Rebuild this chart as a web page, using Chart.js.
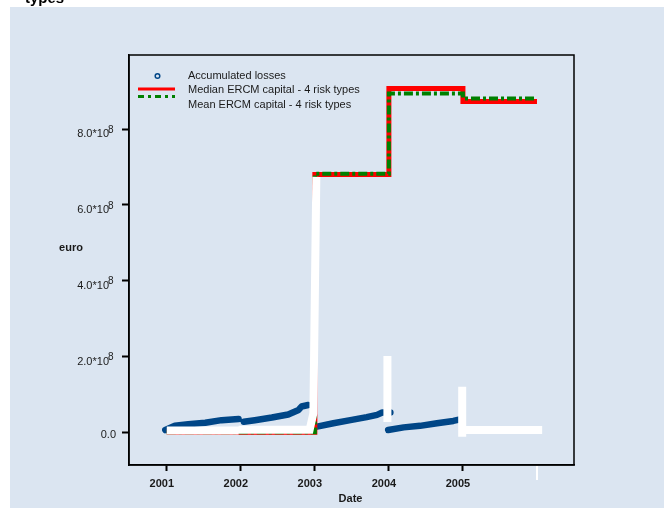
<!DOCTYPE html>
<html>
<head>
<meta charset="utf-8">
<script src="https://cdn.jsdelivr.net/npm/chart.js@4.4.1/dist/chart.umd.min.js"></script>
<style>
    html, body { margin: 0; padding: 0; background: #ffffff; }
    #wrap { position: relative; width: 664px; height: 508px; overflow: hidden; }
    #capitalChart { position: absolute; left: 0; top: 0; }
    #title { position: absolute; left: 25px; top: -10px; font: bold 15px/15px "Liberation Sans", Arial, sans-serif; color: #000; }
</style>
</head>
<body>
<div id="wrap">
    <canvas id="capitalChart" width="664" height="508"></canvas>
    <div id="title">types</div>
</div>
<script>
// years on the x axis (last one only gets a tick)
const years = [2001, 2002, 2003, 2004, 2005, 2006];
const yTicks = [0, 2e8, 4e8, 6e8, 8e8];

// ERCM capital per year, held until the next year
const medianCapital = [0, 0, 6.80e8, 9.07e8, 8.73e8, 8.73e8];
const meanCapital = [0, 0, 6.82e8, 8.94e8, 8.81e8, 8.81e8];

// accumulated losses, reset every year (null = break)
const lossDates = [2000.98, 2001.11, 2001.29, 2001.52, 2001.74, 2001.97, 2002.0,
    2002.04, 2002.19, 2002.42, 2002.64, 2002.78, 2002.82, 2002.91, 2003.0,
    2003.03, 2003.25, 2003.48, 2003.70, 2003.84, 2003.91, 2004.02, 2004.0,
    2003.99, 2004.20, 2004.42, 2004.65, 2004.87, 2004.96];
const lossValues = [0.06e8, 0.17e8, 0.21e8, 0.25e8, 0.32e8, 0.35e8, null,
    0.28e8, 0.32e8, 0.39e8, 0.47e8, 0.59e8, 0.68e8, 0.72e8, null,
    0.15e8, 0.24e8, 0.32e8, 0.40e8, 0.46e8, 0.52e8, 0.52e8, null,
    0.06e8, 0.13e8, 0.17e8, 0.24e8, 0.30e8, 0.34e8];

// white overplot series
const whiteDates = [2001.0, 2001.97, 2001.97, 2001.97, 2002.93, 2002.98, 2003.02, 2003.5,
    2003.98, 2003.98, 2004.5, 2004.99, 2004.99, 2005.0, 2004.99, 2006.07];
const whiteValues = [0.05e8, 0.05e8, null, 0.07e8, 0.07e8, 0.5e8, 6.74e8, null,
    2.01e8, 0.27e8, null, 1.20e8, -0.12e8, null, 0.06e8, 0.06e8];

const fontFamily = '"Liberation Sans", Arial, sans-serif';
const panelColor = '#dbe5f1';
const lossBlue = '#004687';
const textColor = '#1a1a1a';

function toPoints(xs, ys) {
    return xs.map((x, i) => ({x: x, y: ys[i]}));
}

// background panel, frame, y labels with exponent, axis titles and legend
const frameAndLabels = {
    id: 'frameAndLabels',
    beforeDraw(chart) {
        const ctx = chart.ctx;
        ctx.save();
        ctx.fillStyle = panelColor;
        ctx.fillRect(10, 7, chart.width - 10, chart.height - 7);
        ctx.restore();
    },
    afterDraw(chart) {
        const {ctx, chartArea, scales} = chart;
        const left = chartArea.left;
        const top = chartArea.top;
        ctx.save();

        ctx.strokeStyle = '#000';
        ctx.lineWidth = 1.5;
        ctx.strokeRect(left, top, chartArea.right - left, chartArea.bottom - top);

        // white tick at the end year
        const endX = scales.x.getPixelForValue(years[years.length - 1]);
        ctx.strokeStyle = '#ffffff';
        ctx.lineWidth = 2;
        ctx.beginPath();
        ctx.moveTo(endX, chartArea.bottom + 1);
        ctx.lineTo(endX, chartArea.bottom + 15);
        ctx.stroke();

        ctx.fillStyle = textColor;
        ctx.textBaseline = 'middle';
        yTicks.forEach(v => {
            const py = scales.y.getPixelForValue(v);
            ctx.font = '11px ' + fontFamily;
            if (v === 0) {
                ctx.textAlign = 'right';
                ctx.fillText('0.0', left - 13, py + 3);
            } else {
                ctx.textAlign = 'right';
                ctx.fillText((v / 1e8).toFixed(1) + '*10', left - 20, py + 5);
                ctx.font = '10px ' + fontFamily;
                ctx.textAlign = 'left';
                ctx.fillText('8', left - 21, py + 1);
            }
        });

        ctx.font = 'bold 11px ' + fontFamily;
        ctx.textAlign = 'center';
        ctx.fillText('euro', 71, 248);
        ctx.fillText('Date', (left + chartArea.right) / 2 - 1, chartArea.bottom + 34);

        // legend
        const ds = chart.data.datasets;
        const loss = ds[3], median = ds[2], mean = ds[1];
        ctx.font = '11px ' + fontFamily;
        ctx.textAlign = 'left';
        ctx.fillText(loss.label, left + 59, top + 21);
        ctx.fillText(median.label, left + 59, top + 35);
        ctx.fillText(mean.label, left + 59, top + 50);

        ctx.strokeStyle = loss.borderColor;
        ctx.lineWidth = 1.5;
        ctx.beginPath();
        ctx.arc(left + 28.5, top + 21, 2.3, 0, Math.PI * 2);
        ctx.stroke();

        ctx.lineWidth = 3;
        ctx.strokeStyle = median.borderColor;
        ctx.beginPath();
        ctx.moveTo(left + 9, top + 34);
        ctx.lineTo(left + 46, top + 34);
        ctx.stroke();

        ctx.strokeStyle = mean.borderColor;
        ctx.setLineDash([6, 4, 3, 4]);
        ctx.beginPath();
        ctx.moveTo(left + 9, top + 41.5);
        ctx.lineTo(left + 46, top + 41.5);
        ctx.stroke();

        ctx.restore();
    }
};

const config = {
    type: 'line',
    data: {
        datasets: [
            {
                label: 'overplot',
                data: toPoints(whiteDates, whiteValues),
                borderColor: '#ffffff',
                borderWidth: 8,
                borderCapStyle: 'butt',
                pointRadius: 0,
                spanGaps: false,
                order: 0
            },
            {
                label: 'Mean ERCM capital - 4 risk types',
                data: toPoints(years, meanCapital),
                stepped: 'before',
                borderColor: '#008000',
                borderWidth: 4,
                borderDash: [9, 3, 3, 3],
                pointRadius: 0,
                order: 1
            },
            {
                label: 'Median ERCM capital - 4 risk types',
                data: toPoints(years, medianCapital),
                stepped: 'before',
                borderColor: '#ff0000',
                borderWidth: 5,
                pointRadius: 0,
                order: 2
            },
            {
                label: 'Accumulated losses',
                data: toPoints(lossDates, lossValues),
                borderColor: lossBlue,
                borderWidth: 6.5,
                borderCapStyle: 'round',
                borderJoinStyle: 'round',
                pointRadius: 0,
                spanGaps: false,
                order: 3
            }
        ]
    },
    options: {
        responsive: false,
        animation: false,
        events: [],
        layout: {padding: {top: 55, right: 90, left: 0, bottom: 0}},
        plugins: {
            legend: {display: false},
            tooltip: {enabled: false}
        },
        scales: {
            x: {
                type: 'linear',
                min: 2000.49,
                max: 2006.5,
                afterFit(scale) {
                    scale.height = 43;
                },
                afterBuildTicks(scale) {
                    scale.ticks = years.map(v => ({value: v}));
                },
                grid: {
                    drawOnChartArea: false,
                    drawTicks: true,
                    tickLength: 6,
                    tickWidth: 2,
                    tickColor: c => (c.tick && c.tick.value === 2006) ? 'rgba(0,0,0,0)' : '#000'
                },
                border: {display: true, color: '#000', width: 1.5},
                ticks: {
                    callback: v => v === 2006 ? '' : String(v),
                    font: {family: fontFamily, size: 11, weight: 'bold'},
                    color: textColor,
                    padding: 6,
                    labelOffset: -5,
                    maxRotation: 0,
                    autoSkip: false
                }
            },
            y: {
                min: -0.863e8,
                max: 9.955e8,
                afterFit(scale) {
                    scale.width = 129;
                },
                afterBuildTicks(scale) {
                    scale.ticks = yTicks.map(v => ({value: v}));
                },
                grid: {
                    drawOnChartArea: false,
                    drawTicks: true,
                    tickLength: 7,
                    tickWidth: 2,
                    tickColor: '#000'
                },
                border: {display: true, color: '#000', width: 1.5},
                ticks: {display: false}
            }
        }
    },
    plugins: [frameAndLabels]
};

new Chart(document.getElementById('capitalChart'), config);
</script>
</body>
</html>
